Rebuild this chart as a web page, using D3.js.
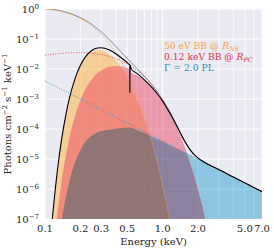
<!DOCTYPE html>
<html><head><meta charset="utf-8">
<script src="https://cdn.jsdelivr.net/npm/d3@7"></script>
<style>
body{margin:0;background:#fff}
svg{display:block}
text{font-family:"DejaVu Serif",serif}
</style>
</head><body>
<svg id="c" width="274" height="250"></svg>
<script>
// ---- data ----
const energy = [0.1,0.11,0.115,0.12,0.13,0.14,0.15,0.16,0.18,0.2,0.22,0.25,0.28,0.3,0.35,0.4,0.45,0.5,0.52,0.526,0.527,0.528,0.54,0.6,0.7,0.8,0.9,1.0,1.1,1.2,1.3,1.5,1.7,2.0,2.2,2.5,3.0,4.0,5.0,6.0,7.0];

// 50 eV BB @ R_NS, absorbed (orange fill)
const bbNSAbs = [5.1e-11,1.1e-8,8.6e-8,4.6e-7,7.5e-6,5.8e-5,2.7e-4,8.9e-4,4.5e-3,0.0124,0.0229,0.0366,0.0428,0.0422,0.0319,0.0196,0.0106,0.00534,0.0039,0.0036,0.00355,0.0035,0.0024,9.6e-4,2.0e-4,3.8e-5,6.8e-6,1.16e-6,2.0e-7,3.3e-8,5e-9,1e-12,1e-12,1e-12,1e-12,1e-12,1e-12,1e-12,1e-12,1e-12,1e-12];
// 0.12 keV BB @ R_PC, absorbed (red fill)
const bbPCAbs = [1.5e-12,3.5e-10,2.9e-9,1.6e-8,2.8e-7,2.4e-6,1.23e-5,4.4e-5,2.7e-4,9.1e-4,2.07e-3,4.5e-3,7.3e-3,8.9e-3,0.0118,0.0127,0.0122,0.0109,0.0102,0.00996,0.0099,0.0098,0.0077,0.0063,0.0041,0.0025,0.00145,0.00081,0.00043,0.00023,0.000118,3.0e-5,7.5e-6,8.5e-7,2.0e-7,2.1e-8,1e-11,1e-12,1e-12,1e-12,1e-12];
// Gamma = 2.0 PL, absorbed (blue fill)
const plAbs = [2e-13,3.7e-11,2.8e-10,1.4e-9,1.5e-8,1.1e-7,5.0e-7,1.6e-6,7.5e-6,2.0e-5,3.7e-5,6.0e-5,7.8e-5,8.5e-5,9.5e-5,1.02e-4,1.08e-4,1.12e-4,1.12e-4,1.12e-4,1.12e-4,1.12e-4,1.1e-4,9.5e-5,7.3e-5,5.7e-5,4.6e-5,3.8e-5,3.17e-5,2.68e-5,2.3e-5,1.74e-5,1.36e-5,9.9e-6,8.2e-6,6.4e-6,4.44e-6,2.5e-6,1.6e-6,1.11e-6,8.16e-7];

// unabsorbed components (dotted)
const bbNSUnabs = [1.0,0.963,0.94,0.918,0.867,0.811,0.753,0.695,0.581,0.477,0.384,0.271,0.186,0.143,0.0714,0.0343,0.016,0.00725,0.00526,0.00478,0.0047,0.00462,0.0038,0.00141,0.00026,4.6e-5,7.9e-6,1.3e-6,2.2e-7,3.5e-8,5.5e-9,1e-12,1e-12,1e-12,1e-12,1e-12,1e-12,1e-12,1e-12,1e-12,1e-12];
const bbPCUnabs = [0.029,0.0304,0.031,0.0316,0.0326,0.0334,0.0341,0.0345,0.0351,0.0351,0.0347,0.0335,0.0318,0.0303,0.0264,0.0223,0.0184,0.0148,0.01356,0.0132,0.0131,0.013,0.01235,0.0092,0.00542,0.00307,0.00169,0.000906,0.000476,0.000246,0.000126,3.17e-5,7.7e-6,8.7e-7,2.0e-7,2.1e-8,1e-11,1e-12,1e-12,1e-12,1e-12];
const plUnabs = [4e-3,3.31e-3,3.02e-3,2.78e-3,2.37e-3,2.04e-3,1.78e-3,1.56e-3,1.23e-3,1e-3,8.26e-4,6.4e-4,5.1e-4,4.44e-4,3.27e-4,2.5e-4,1.98e-4,1.6e-4,1.48e-4,1.45e-4,1.44e-4,1.43e-4,1.37e-4,1.11e-4,8.16e-5,6.25e-5,4.94e-5,4e-5,3.31e-5,2.78e-5,2.37e-5,1.78e-5,1.38e-5,1e-5,8.26e-6,6.4e-6,4.44e-6,2.5e-6,1.6e-6,1.11e-6,8.16e-7];

// totals
const totalUnabs = [1.033,0.997,0.974,0.952,0.902,0.846,0.789,0.731,0.617,0.513,0.419,0.305,0.218,0.174,0.0981,0.0568,0.0346,0.0222,0.019,0.0181,0.018,0.0178,0.0163,0.0107,0.00576,0.00318,0.00175,0.000947,0.000509,0.000274,0.00015,4.95e-5,2.15e-5,1.09e-5,8.46e-6,6.4e-6,4.44e-6,2.5e-6,1.6e-6,1.11e-6,8.16e-7];
const totalAbs = [5.1e-11,1.1e-8,8.9e-8,4.8e-7,7.8e-6,6.0e-5,2.8e-4,9.3e-4,4.8e-3,0.0133,0.025,0.0412,0.0502,0.0512,0.0438,0.0324,0.0229,0.0164,0.0142,0.0137,0.0016,0.0135,0.0102,0.0073,0.00436,0.00259,0.0015,0.00085,0.00046,0.000256,0.00014,4.7e-5,2.1e-5,1.07e-5,8.3e-6,6.3e-6,4.44e-6,2.5e-6,1.6e-6,1.11e-6,8.16e-7];

const xTickVals = [0.1,0.2,0.3,0.5,1.0,2.0,5.0,7.0];
const xTickLabels = ["0.1","0.2","0.3","0.5","1.0","2.0","5.0","7.0"];
const xGridVals = [0.1,0.2,0.3,0.4,0.5,0.6,0.7,0.8,0.9,1,2,3,4,5,6,7];
const yTickExps = [0,-1,-2,-3,-4,-5,-6,-7];
const legendLabels = [
  {main:"50 eV BB @ ", r:"R", sub:"NS"},
  {main:"0.12 keV BB @ ", r:"R", sub:"PC"},
  {main:"Γ = 2.0 PL", r:"", sub:""}
];

// ---- drawing ----
const L=45,R=262,T=9,B=219;
const svg=d3.select("#c");
const x=d3.scaleLog().domain([0.1,7]).range([L,R]);
const y=d3.scaleLog().domain([1e-7,1]).range([B,T]);

const colors={ns:"#ffaf3a", pc:"#ea4060", pl:"#9ad7ee"};
const lineCols={ns:"#f5a030", pc:"#e8506c", pl:"#3aa0c8"};

svg.append("defs").append("clipPath").attr("id","clip")
  .append("rect").attr("x",L).attr("y",T).attr("width",R-L).attr("height",B-T);

const root=svg.append("g").style("isolation","isolate");
root.append("rect").attr("x",L).attr("y",T).attr("width",R-L).attr("height",B-T).attr("fill","#eaeaf2");

const grid=root.append("g");
grid.selectAll("line.gx").data(xGridVals).join("line")
  .attr("x1",d=>x(d)).attr("x2",d=>x(d)).attr("y1",T).attr("y2",B)
  .attr("stroke","#fff").attr("stroke-width",d=>(d===0.1||d===1)?1:0.8);
grid.selectAll("line.gy").data(yTickExps).join("line")
  .attr("x1",L).attr("x2",R).attr("y1",d=>y(Math.pow(10,d))).attr("y2",d=>y(Math.pow(10,d)))
  .attr("stroke","#fff").attr("stroke-width",1);

const fl=v=>Math.max(v,1e-9);
function series(arr){return energy.map((e,i)=>({e,v:arr[i]}));}
const area=d3.area().x(d=>x(d.e)).y0(B+5).y1(d=>y(fl(d.v))).curve(d3.curveMonotoneX);
const line=d3.line().x(d=>x(d.e)).y(d=>y(fl(d.v))).curve(d3.curveMonotoneX);

root.append("path").datum(series(bbNSAbs)).attr("clip-path","url(#clip)").attr("d",area).attr("fill",colors.ns).attr("fill-opacity",0.5);
root.append("path").datum(series(bbPCAbs)).attr("clip-path","url(#clip)").attr("d",area).attr("fill",colors.pc).attr("fill-opacity",0.48);
root.append("path").datum(series(plAbs)).attr("clip-path","url(#clip)").attr("d",area).attr("fill",colors.pl).style("mix-blend-mode","multiply");

const plot=root.append("g").attr("clip-path","url(#clip)");
plot.append("path").datum(series(totalUnabs)).attr("d",line).attr("fill","none").attr("stroke","#7a7a82").attr("stroke-width",0.9);
[[bbNSUnabs,lineCols.ns],[bbPCUnabs,lineCols.pc],[plUnabs,lineCols.pl]].forEach(([arr,c])=>{
  plot.append("path").datum(series(arr)).attr("d",line).attr("fill","none")
    .attr("stroke",c).attr("stroke-width",1).attr("stroke-dasharray","1,1.6");
});
plot.append("path").datum(series(totalAbs)).attr("d",line).attr("fill","none").attr("stroke","#000").attr("stroke-width",1.1);

// y tick labels
const yl=svg.append("g");
yTickExps.forEach(ex=>{
  const t=yl.append("text").attr("x",39).attr("y",y(Math.pow(10,ex))+4).attr("text-anchor","end").attr("font-size",10).attr("fill","#262626");
  t.append("tspan").text("10");
  t.append("tspan").attr("dy",-4).attr("font-size",7).text(ex===0?"0":"\u2212"+(-ex));
});
// x tick labels
svg.append("g").selectAll("text").data(xTickVals).join("text")
  .attr("x",d=>x(d)).attr("y",232).attr("text-anchor","middle").attr("font-size",10).attr("fill","#262626")
  .text((d,i)=>xTickLabels[i]);
// axis labels
svg.append("text").attr("x",(L+R)/2).attr("y",245).attr("text-anchor","middle").attr("font-size",10).attr("fill","#262626").text("Energy (keV)");
const ylab=svg.append("text").attr("transform",`translate(11,${(T+B)/2}) rotate(-90)`).attr("text-anchor","middle").attr("font-size",10).attr("fill","#262626");
ylab.append("tspan").text("Photons cm");
ylab.append("tspan").attr("dy",-4).attr("font-size",7).text("\u22122");
ylab.append("tspan").attr("dy",4).text(" s");
ylab.append("tspan").attr("dy",-4).attr("font-size",7).text("\u22121");
ylab.append("tspan").attr("dy",4).text(" keV");
ylab.append("tspan").attr("dy",-4).attr("font-size",7).text("\u22121");

// legend (text only)
const legCols=["#f9a23a","#e03050","#2a8cc0"];
legendLabels.forEach((d,i)=>{
  const t=svg.append("text").attr("x",164).attr("y",49+i*11).attr("font-size",9.2).attr("fill",legCols[i]);
  t.append("tspan").text(d.main);
  if(d.r){
    t.append("tspan").attr("font-style","italic").text(d.r);
    t.append("tspan").attr("font-style","italic").attr("font-size",6.5).attr("dy",1.5).text(d.sub);
  }
});
</script>
</body></html>
